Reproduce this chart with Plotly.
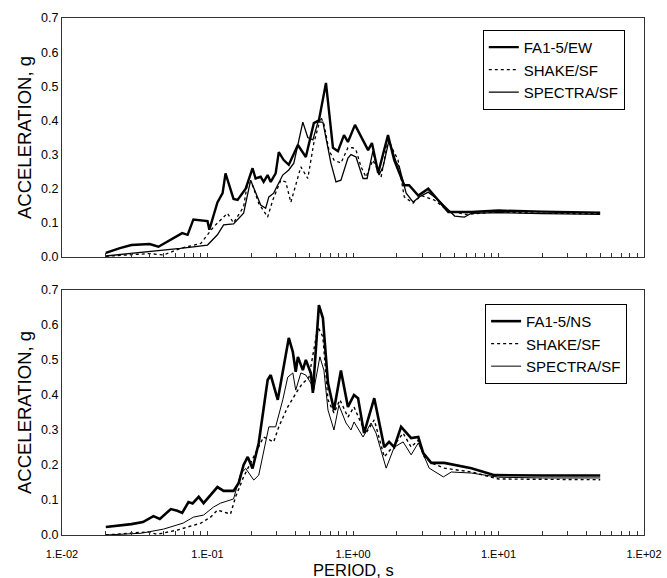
import plotly.graph_objects as go
from plotly.subplots import make_subplots

# ---------------- data: top panel (EW) ----------------
ew_fa_T = [0.02, 0.025, 0.030, 0.040, 0.046, 0.056, 0.067, 0.073, 0.080, 0.100, 0.103, 0.117,
           0.127, 0.133, 0.151, 0.161, 0.183, 0.204, 0.214, 0.232, 0.243, 0.259, 0.272, 0.294,
           0.309, 0.334, 0.362, 0.418, 0.474, 0.538, 0.583, 0.652, 0.728, 0.788, 0.867, 0.923,
           1.032, 1.27, 1.35, 1.49, 1.74, 1.92, 2.25, 2.43, 2.81, 3.29, 3.86, 4.52, 6.51,
           10.0, 20.0, 50.0]
ew_fa_A = [0.012, 0.026, 0.035, 0.038, 0.030, 0.050, 0.070, 0.065, 0.110, 0.105, 0.080, 0.160,
           0.187, 0.245, 0.170, 0.167, 0.200, 0.260, 0.230, 0.235, 0.220, 0.240, 0.220, 0.245,
           0.307, 0.284, 0.270, 0.328, 0.293, 0.392, 0.400, 0.510, 0.320, 0.310, 0.357, 0.337,
           0.387, 0.313, 0.334, 0.246, 0.357, 0.284, 0.210, 0.210, 0.180, 0.200, 0.167, 0.132, 0.132,
           0.136, 0.133, 0.130]

ew_shake_T = [0.02, 0.040, 0.050, 0.065, 0.090, 0.110, 0.137, 0.151, 0.177, 0.189, 0.204, 0.225,
              0.259, 0.281, 0.319, 0.345, 0.374, 0.404, 0.438, 0.489, 0.538, 0.601, 0.631, 0.683,
              0.740, 0.826, 0.923, 1.0, 1.049, 1.136, 1.229, 1.37, 1.56, 1.74, 2.04, 2.25, 2.59,
              2.94, 3.62, 4.5, 6.0, 10.0, 20.0, 50.0]
ew_shake_A = [0.002, 0.010, 0.006, 0.025, 0.040, 0.088, 0.128, 0.100, 0.147, 0.220, 0.210, 0.157,
              0.117, 0.167, 0.225, 0.220, 0.160, 0.210, 0.264, 0.230, 0.334, 0.410, 0.390, 0.313,
              0.284, 0.275, 0.320, 0.320, 0.313, 0.264, 0.234, 0.284, 0.234, 0.343, 0.284, 0.176, 0.158,
              0.180, 0.167, 0.135, 0.125, 0.132, 0.128, 0.127]

ew_spec_T = [0.02, 0.040, 0.065, 0.080, 0.100, 0.117, 0.129, 0.151, 0.177, 0.198, 0.232, 0.251,
             0.264, 0.285, 0.329, 0.362, 0.392, 0.452, 0.489, 0.530, 0.574, 0.621, 0.652, 0.705,
             0.764, 0.826, 0.923, 0.969, 1.049, 1.172, 1.25, 1.37, 1.51, 1.61, 1.77, 1.98, 2.08,
             2.32, 2.59, 2.85, 3.29, 3.86, 5.0, 5.83, 6.51, 10.0, 20.0, 50.0]
ew_spec_A = [0.003, 0.015, 0.025, 0.030, 0.035, 0.065, 0.094, 0.097, 0.128, 0.225, 0.152, 0.143,
             0.176, 0.187, 0.240, 0.255, 0.275, 0.395, 0.350, 0.343, 0.395, 0.395, 0.350, 0.275,
             0.220, 0.225, 0.290, 0.300, 0.293, 0.230, 0.230, 0.310, 0.240, 0.264, 0.343, 0.278, 0.264,
             0.187, 0.161, 0.176, 0.190, 0.167, 0.120, 0.117, 0.128, 0.130, 0.127, 0.125]

# ---------------- data: bottom panel (NS) ----------------
ns_fa_T = [0.02, 0.030, 0.036, 0.0425, 0.047, 0.056, 0.062, 0.067, 0.074, 0.079, 0.087, 0.094,
           0.117, 0.129, 0.151, 0.164, 0.177, 0.189, 0.204, 0.225, 0.259, 0.272, 0.304, 0.319,
           0.362, 0.386, 0.404, 0.418, 0.452, 0.474, 0.513, 0.530, 0.583, 0.621, 0.673, 0.740,
           0.826, 0.923, 1.016, 1.083, 1.191, 1.40, 1.64, 1.77, 1.92, 2.14, 2.51, 2.81, 3.04,
           3.45, 4.24, 6.51, 9.38, 20.0, 50.0]
ns_fa_A = [0.023, 0.031, 0.037, 0.054, 0.046, 0.074, 0.069, 0.063, 0.094, 0.090, 0.109, 0.091,
           0.137, 0.126, 0.126, 0.149, 0.200, 0.223, 0.190, 0.263, 0.443, 0.457, 0.386, 0.437,
           0.563, 0.523, 0.466, 0.509, 0.471, 0.500, 0.463, 0.406, 0.657, 0.620, 0.434, 0.357,
           0.470, 0.366, 0.400, 0.391, 0.291, 0.391, 0.251, 0.266, 0.251, 0.309, 0.277, 0.280, 0.234,
           0.206, 0.206, 0.191, 0.171, 0.170, 0.170]

ns_shake_T = [0.02, 0.039, 0.045, 0.062, 0.090, 0.105, 0.117, 0.144, 0.156, 0.177, 0.243, 0.285,
              0.309, 0.356, 0.418, 0.452, 0.497, 0.574, 0.621, 0.673, 0.740, 0.813, 0.923, 1.016,
              1.136, 1.229, 1.40, 1.64, 1.92, 2.21, 2.51, 2.81, 3.09, 3.45, 4.24, 6.51, 10.0,
              20.0, 50.0]
ns_shake_A = [0.000, 0.009, 0.002, 0.014, 0.034, 0.051, 0.071, 0.060, 0.109, 0.166, 0.280, 0.266,
              0.309, 0.366, 0.414, 0.434, 0.449, 0.594, 0.566, 0.386, 0.349, 0.386, 0.337, 0.366,
              0.320, 0.291, 0.329, 0.223, 0.257, 0.291, 0.251, 0.271, 0.223, 0.206, 0.191, 0.180, 0.160,
              0.160, 0.158]

ns_spec_T = [0.02, 0.035, 0.050, 0.068, 0.080, 0.094, 0.110, 0.123, 0.151, 0.169, 0.183, 0.208,
             0.225, 0.264, 0.294, 0.329, 0.356, 0.386, 0.404, 0.438, 0.474, 0.513, 0.538, 0.592,
             0.631, 0.673, 0.740, 0.800, 0.895, 0.969, 1.016, 1.172, 1.33, 1.44, 1.69, 1.92, 2.21,
             2.51, 2.81, 3.04, 3.34, 4.18, 4.74, 6.51, 10.0, 20.0, 50.0]
ns_spec_A = [0.000, 0.005, 0.017, 0.034, 0.051, 0.057, 0.080, 0.091, 0.103, 0.175, 0.190, 0.157,
             0.171, 0.309, 0.309, 0.386, 0.451, 0.463, 0.414, 0.463, 0.457, 0.434, 0.414, 0.509,
             0.471, 0.357, 0.300, 0.371, 0.320, 0.300, 0.323, 0.280, 0.320, 0.291, 0.191, 0.251, 0.266,
             0.229, 0.263, 0.229, 0.191, 0.166, 0.180, 0.177, 0.165, 0.163, 0.163]

# ---------------- axis labels ----------------
decades = [0.01, 0.1, 1, 10, 100]
decade_labels = ["1.E-02", "1.E-01", "1.E+00", "1.E+01", "1.E+02"]
y_ticks = [0.0, 0.1, 0.2, 0.3, 0.4, 0.5, 0.6, 0.7]

# tick positions: decades plus 2..9 minor positions (labels only on decades)
tick_vals, tick_text = [], []
for i, d in enumerate(decades):
    tick_vals.append(d)
    tick_text.append(decade_labels[i])
    if i < len(decades) - 1:
        for m in range(2, 10):
            tick_vals.append(d * m)
            tick_text.append("")

FONT = "Liberation Sans, Arial, sans-serif"
FRAME = "#333333"

fig = make_subplots(rows=2, cols=1, vertical_spacing=0.06)

def add(T, A, name, width, dash, row, legend):
    fig.add_trace(go.Scatter(x=T, y=A, mode="lines", name=name,
                             line=dict(color="black", width=width, dash=dash),
                             legend=legend), row=row, col=1)

add(ew_fa_T, ew_fa_A, "FA1-5/EW", 2.4, "solid", 1, "legend")
add(ew_shake_T, ew_shake_A, "SHAKE/SF", 1.3, "dot", 1, "legend")
add(ew_spec_T, ew_spec_A, "SPECTRA/SF", 1.3, "solid", 1, "legend")
add(ns_fa_T, ns_fa_A, "FA1-5/NS", 2.6, "solid", 2, "legend2")
add(ns_shake_T, ns_shake_A, "SHAKE/SF", 1.4, "dot", 2, "legend2")
add(ns_spec_T, ns_spec_A, "SPECTRA/SF", 1.0, "solid", 2, "legend2")

xcommon = dict(type="log", range=[-2, 2], tickvals=tick_vals, ticktext=tick_text,
               ticks="inside", ticklen=4, tickwidth=1, tickcolor=FRAME,
               showline=True, linecolor=FRAME, linewidth=1, mirror=True,
               showgrid=False, zeroline=False, automargin=False,
               ticklabelstandoff=9,
               tickfont=dict(family=FONT, size=11, color="black"))
ycommon = dict(range=[0, 0.7], tickvals=y_ticks, tickformat=".1f",
               ticks="", showline=True, linecolor=FRAME, linewidth=1, mirror=True,
               showgrid=False, zeroline=False, automargin=False,
               tickfont=dict(family=FONT, size=12.5, color="black"),
               title=dict(text="ACCELERATION, g", font=dict(family=FONT, size=18.5, color="black"),
                          standoff=4))

fig.update_xaxes(**xcommon)
fig.update_xaxes(showticklabels=False, row=1, col=1)
fig.update_yaxes(**ycommon)

leg_common = dict(xanchor="left", yanchor="top",
                  bordercolor="black", borderwidth=1, bgcolor="white",
                  font=dict(family=FONT, size=15, color="black"),
                  tracegroupgap=0, itemwidth=30)

fig.update_layout(
    width=667, height=578,
    margin=dict(l=62, r=23, t=18, b=43),
    paper_bgcolor="white", plot_bgcolor="white",
    xaxis=dict(domain=[0, 1]), xaxis2=dict(domain=[0, 1]),
    yaxis=dict(domain=[0.5377, 1.0]), yaxis2=dict(domain=[0.0, 0.4739]),
    legend=dict(x=0.723, y=0.977, **leg_common),
    legend2=dict(x=0.727, y=0.447, **leg_common),
    showlegend=True,
    annotations=[dict(text="PERIOD, s", xref="paper", yref="paper", x=0.5, y=-0.0677,
                      xanchor="center", yanchor="middle", showarrow=False,
                      font=dict(family=FONT, size=16.5, color="black"))],
)

fig.write_html("out.html")
